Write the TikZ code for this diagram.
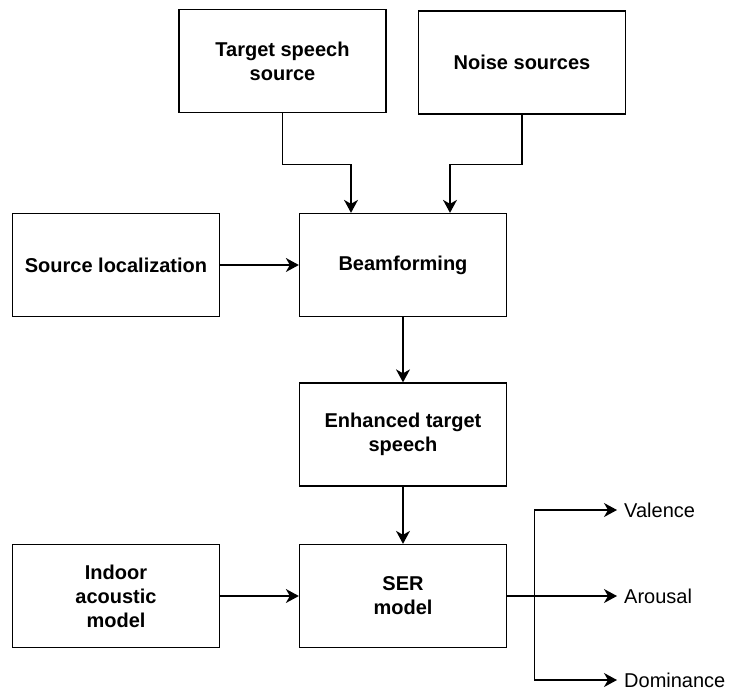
\documentclass[tikz,border=0pt]{standalone}
\usepackage{fontspec}
\setmainfont{Liberation Sans}
\usetikzlibrary{arrows.meta,positioning,calc}

\begin{document}
\begin{tikzpicture}[x=1pt,y=-1pt,
    block/.style={draw,line width=1.3pt,minimum width=207pt,minimum height=103pt,
        align=center,font=\bfseries\fontsize{20}{24}\selectfont},
    arr/.style={-{Stealth[length=13pt,width=14pt,inset=4pt]},line width=1.3pt},
    outlbl/.style={anchor=west,inner xsep=7pt,inner ysep=0pt,font=\fontsize{20}{24}\selectfont}]
    \useasboundingbox (0,0) rectangle (730,691);
    %Blocks
    \node[block] (target) at (282.5,61) {Target speech\\source};
    \node[block] (noise) at (522,62.5) {Noise sources};
    \node[block] (srcloc) at (116,265) {Source localization};
    \node[block] (beam) at (403,265) {Beamforming};
    \node[block] (enhanced) at (403,434.5) {Enhanced target\\speech};
    \node[block] (indoor) at (116,596) {Indoor\\acoustic\\model};
    \node[block] (ser) at (403,596) {SER\\model};
    %Outputs
    \coordinate (branch) at ([xshift=27pt]ser.east);
    \node[outlbl] (valence) at (617,510) {Valence};
    \node[outlbl] (arousal) at (617,596) {Arousal};
    \node[outlbl] (dominance) at (617,680) {Dominance};
    %Arrows
    \draw[arr] (target.south) -- ++(0,51) -| ([xshift=-52pt]beam.north);
    \draw[arr] (noise.south) -- ++(0,49.5) -| ([xshift=47pt]beam.north);
    \draw[arr] (srcloc) -- (beam);
    \draw[arr] (beam) -- (enhanced);
    \draw[arr] (enhanced) -- (ser);
    \draw[arr] (indoor) -- (ser);
    \draw[arr] (ser.east) -- (arousal.west);
    \draw[arr] (branch) |- (valence.west);
    \draw[arr] (branch) |- (dominance.west);
\end{tikzpicture}
\end{document}
